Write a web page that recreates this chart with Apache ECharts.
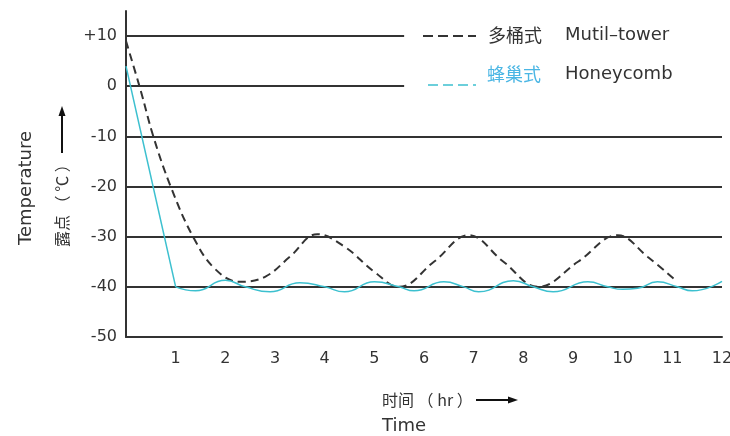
<!DOCTYPE html>
<html>
<head>
<meta charset="utf-8">
<script src="https://cdn.jsdelivr.net/npm/echarts@6/dist/echarts.min.js"></script>
<style>
  html, body { margin: 0; padding: 0; background: #fff; }
  #chart { width: 730px; height: 436px; }
</style>
</head>
<body>
<div id="chart"></div>
<script>
// values, [hr, °C]
const towerPts = [
  [0, 9], [0.3, -1], [0.55, -10], [0.9, -20], [1.35, -30], [1.8, -36.5], [2.3, -39],
  [2.8, -38], [3.3, -34], [3.85, -29.5], [4.4, -32], [5, -37], [5.5, -40],
  [6.2, -35], [6.9, -29.7], [7.6, -35], [8.3, -40], [9.1, -35], [9.9, -29.7],
  [10.5, -34], [11.1, -39]
]
const honeyDrop = [[0, 4], [1, -40]]
const honeyWave = [
  [1, -40], [1.4, -40.8], [2.0, -38.7], [2.4, -40], [2.9, -41], [3.5, -39.2],
  [4.0, -40], [4.4, -41], [5.0, -39], [5.5, -40], [5.8, -40.8], [6.4, -39],
  [6.8, -40], [7.1, -41], [7.8, -38.8], [8.2, -40], [8.6, -41], [9.3, -39],
  [9.7, -40], [10.0, -40.5], [10.3, -40.3], [10.7, -39], [11.1, -40],
  [11.4, -40.8], [12, -38.9]
]
const gridFull = [-10, -20, -30, -40]
const gridShort = [10, 0]
const shortEnd = 5.6

const FONT = 'DejaVu Sans'
const CJK = 'Noto Sans CJK SC'
const INK = '#333'
const CYAN = '#3cc0cf'

const chart = echarts.init(document.getElementById('chart'))

const gridLines = gridFull.map(v => ({ yAxis: v }))
  .concat(gridShort.map(v => [{ xAxis: 0, yAxis: v }, { xAxis: shortEnd, yAxis: v }]))

chart.setOption({
  animation: false,
  grid: { left: 126, right: 8, top: 11, bottom: 99, outerBoundsMode: 'none', containLabel: false },
  xAxis: {
    type: 'value',
    min: 0,
    max: 12,
    interval: 1,
    axisLine: { onZero: false, lineStyle: { color: INK, width: 2 } },
    axisTick: { show: false },
    splitLine: { show: false },
    axisLabel: {
      color: INK,
      fontFamily: FONT,
      fontSize: 16,
      margin: 14,
      formatter: v => (v === 0 ? '' : String(v))
    }
  },
  yAxis: {
    type: 'value',
    min: -50,
    max: 15,
    interval: 10,
    axisLine: { show: true, onZero: false, lineStyle: { color: INK, width: 2 } },
    axisTick: { show: false },
    splitLine: { show: false },
    axisLabel: {
      color: INK,
      fontFamily: FONT,
      fontSize: 16,
      margin: 9,
      formatter: v => {
        if (v % 10 !== 0) return ''
        return v > 0 ? '+' + v : String(v)
      }
    }
  },
  series: [
    {
      name: 'Mutil-tower',
      type: 'line',
      data: towerPts,
      smooth: 0.4,
      showSymbol: false,
      z: 3,
      lineStyle: { color: INK, width: 2, type: [8, 5] },
      markLine: {
        silent: true,
        symbol: 'none',
        z: 1,
        label: { show: false },
        lineStyle: { type: 'solid', color: INK, width: 2 },
        data: gridLines
      }
    },
    {
      name: 'Honeycomb drop',
      type: 'line',
      data: honeyDrop,
      showSymbol: false,
      z: 3,
      lineStyle: { color: CYAN, width: 1.5 }
    },
    {
      name: 'Honeycomb',
      type: 'line',
      data: honeyWave,
      smooth: 0.5,
      showSymbol: false,
      z: 3,
      lineStyle: { color: CYAN, width: 1.5 }
    }
  ],
  graphic: [
    // legend
    { type: 'line', shape: { x1: 423, y1: 36, x2: 476, y2: 36 }, style: { stroke: INK, lineWidth: 2, lineDash: [10, 5] } },
    { type: 'text', x: 488, y: 35, style: { text: '多桶式', font: '18px "' + CJK + '"', fill: INK, verticalAlign: 'middle' } },
    { type: 'text', x: 565, y: 35, style: { text: 'Mutil–tower', font: '18px "' + FONT + '"', fill: INK, verticalAlign: 'middle' } },
    { type: 'line', shape: { x1: 428, y1: 85, x2: 476, y2: 85 }, style: { stroke: CYAN, lineWidth: 1.5, lineDash: [10, 5] } },
    { type: 'text', x: 487, y: 74, style: { text: '蜂巢式', font: '18px "' + CJK + '"', fill: '#4ab6e4', verticalAlign: 'middle' } },
    { type: 'text', x: 565, y: 74, style: { text: 'Honeycomb', font: '18px "' + FONT + '"', fill: INK, verticalAlign: 'middle' } },
    // y axis name
    { type: 'text', x: 26, y: 188, rotation: Math.PI / 2, style: { text: 'Temperature', font: '18px "' + FONT + '"', fill: INK, align: 'center', verticalAlign: 'middle' } },
    { type: 'text', x: 62, y: 247, rotation: Math.PI / 2, style: { text: '露点 （ ℃ ）', font: '16px "' + CJK + '"', fill: INK, align: 'left', verticalAlign: 'middle' } },
    { type: 'line', shape: { x1: 62, y1: 153, x2: 62, y2: 114 }, style: { stroke: '#111', lineWidth: 2 } },
    { type: 'polygon', shape: { points: [[62, 106], [58.5, 116], [65.5, 116]] }, style: { fill: '#111' } },
    // x axis name
    { type: 'text', x: 382, y: 400, style: { text: '时间 （ hr ）', font: '16px "' + CJK + '"', fill: INK, verticalAlign: 'middle' } },
    { type: 'line', shape: { x1: 476, y1: 400, x2: 510, y2: 400 }, style: { stroke: '#111', lineWidth: 2 } },
    { type: 'polygon', shape: { points: [[518, 400], [508, 396.5], [508, 403.5]] }, style: { fill: '#111' } },
    { type: 'text', x: 382, y: 426, style: { text: 'Time', font: '18px "' + FONT + '"', fill: INK, verticalAlign: 'middle' } }
  ]
})
</script>
</body>
</html>
